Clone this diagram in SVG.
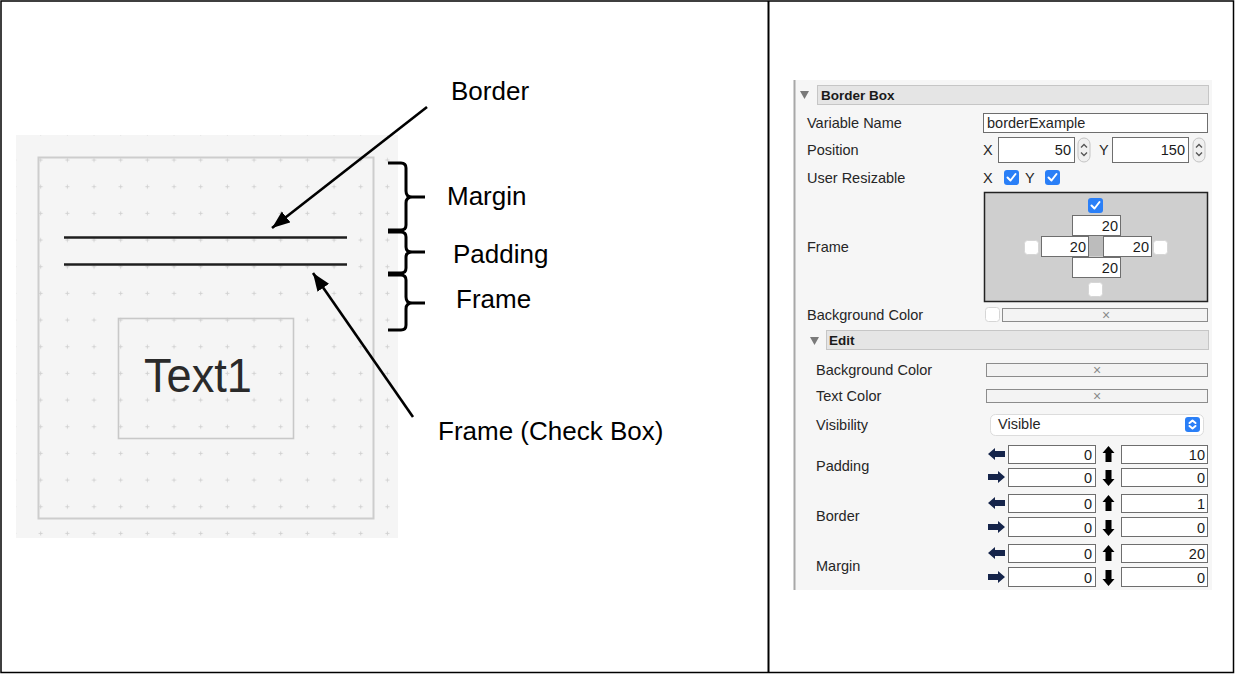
<svg xmlns="http://www.w3.org/2000/svg" width="1235" height="674" viewBox="0 0 1235 674">
  <style>
    .lbl { font-family: "Liberation Sans", Arial, sans-serif; font-size: 26px; fill: #000; }
    .ui { font-family: "Liberation Sans", Arial, sans-serif; font-size: 14.5px; fill: #262626; }
    .uib { font-family: "Liberation Sans", Arial, sans-serif; font-size: 13.5px; font-weight: bold; fill: #1a1a1a; }
    .num { font-family: "Liberation Sans", Arial, sans-serif; font-size: 14.5px; fill: #1a1a1a; text-anchor: end; }
    .x { font-family: "Liberation Sans", Arial, sans-serif; font-size: 14px; fill: #8a8a8a; text-anchor: middle; }
    .field { fill: #ffffff; stroke: #6e6e6e; stroke-width: 1; }
    .bar { fill: #f3f3f3; stroke: #8c8c8c; stroke-width: 1; }
    .hdr { fill: #e5e5e5; stroke: #c6c6c6; stroke-width: 1; }
    .tri { fill: #7a7a7a; }
    .cbon { fill: #2a7ff7; }
    .tick { fill: none; stroke: #ffffff; stroke-width: 2; stroke-linecap: round; stroke-linejoin: round; }
    .cboff { fill: #ffffff; stroke: #d6d6d6; stroke-width: 1; }
    .brace { fill: none; stroke: #000; stroke-width: 3; stroke-linejoin: round; }
    .conn { fill: none; stroke: #000; stroke-width: 2.6; }
    .lft { fill: #15244a; }
    .vert { fill: #000; }
    .chev { fill: none; stroke: #555; stroke-width: 1.3; }
  </style>
  <defs>
    <pattern id="grid" patternUnits="userSpaceOnUse" x="27.35" y="146.7" width="26.67" height="26.67">
      <path d="M11.33,13.33 h4 M13.33,11.33 v4" stroke="#d2d2d2" stroke-width="1"/>
    </pattern>
    <marker id="head" markerUnits="userSpaceOnUse" markerWidth="20" markerHeight="16" refX="18" refY="7" orient="auto">
      <path d="M0,0 L18,7 L0,14 z" fill="#000"/>
    </marker>
  </defs>

  <!-- table frame -->
  <rect x="1" y="1" width="1232.5" height="671.5" fill="#ffffff" stroke="#000" stroke-width="1.5"/>
  <line x1="768.5" y1="1" x2="768.5" y2="673" stroke="#000" stroke-width="2"/>

  <!-- design canvas -->
  <g id="canvas">
    <rect x="16" y="135" width="382" height="403" fill="#f5f5f5"/>
    <rect x="16" y="135" width="382" height="403" fill="url(#grid)"/>
    <rect x="38.5" y="157.5" width="335" height="361" fill="none" stroke="#cdcdcd" stroke-width="2"/>
    <line x1="64" y1="237.5" x2="347" y2="237.5" stroke="#1e1e1e" stroke-width="2.6"/>
    <line x1="64" y1="264.5" x2="347" y2="264.5" stroke="#1e1e1e" stroke-width="2.6"/>
    <rect x="118.5" y="318.5" width="175" height="120" fill="none" stroke="#c8c8c8" stroke-width="1.6"/>
    <text x="144" y="392" font-family="Liberation Sans, Arial, sans-serif" font-size="48" fill="#2a2a2a" textLength="108" lengthAdjust="spacingAndGlyphs">Text1</text>
  </g>

  <!-- braces -->
  <g id="brace-margin">
    <path class="brace" d="M388,163 H401 Q406,163 406,168 V191 Q406,197 412,197 H425 M412,197 Q406,197 406,203 V225 Q406,230 401,230 H388"/>
    <text class="lbl" x="447" y="205">Margin</text>
  </g>
  <g id="brace-padding">
    <path class="brace" d="M388,232 H401 Q406,232 406,237 V247 Q406,252 412,252 H425 M412,252 Q406,252 406,257 V268 Q406,273 401,273 H388"/>
    <text class="lbl" x="453" y="263">Padding</text>
  </g>
  <g id="brace-frame">
    <path class="brace" d="M388,275 H401 Q406,275 406,280 V297 Q406,303 412,303 H425 M412,303 Q406,303 406,309 V325 Q406,330 401,330 H388"/>
    <text class="lbl" x="456" y="308">Frame</text>
  </g>

  <g id="label-border">
    <text class="lbl" x="451" y="100">Border</text>
  </g>
  <g id="label-frame-checkbox">
    <text class="lbl" x="438" y="440">Frame (Check Box)</text>
  </g>

  <!-- pointers -->
  <g id="connectors">
    <line class="conn" x1="427" y1="107" x2="272" y2="228" marker-end="url(#head)"/>
    <line class="conn" x1="413" y1="417" x2="313" y2="273" marker-end="url(#head)"/>
  </g>

  <!-- property inspector -->
  <g id="inspector">
    <rect x="795" y="80" width="417" height="510" fill="#f6f6f6"/>
    <line x1="794.5" y1="80" x2="794.5" y2="590" stroke="#a8a8a8" stroke-width="2"/>

    <!-- Border Box section -->
    <polygon class="tri" points="800,91 809,91 804.5,99"/>
    <rect class="hdr" x="817.5" y="85.5" width="391" height="19"/>
    <text class="uib" x="821" y="100">Border Box</text>

    <text class="ui" x="807" y="128">Variable Name</text>
    <rect class="field" x="983.5" y="113.5" width="224" height="19"/>
    <text class="ui" x="987" y="128" fill="#1a1a1a">borderExample</text>

    <text class="ui" x="807" y="155">Position</text>
    <text class="ui" x="983" y="155">X</text>
    <rect class="field" x="998.5" y="137.5" width="76" height="25"/>
    <text class="num" x="1071" y="155">50</text>
    <rect x="1078" y="138" width="12" height="24" rx="6" fill="#f0f0f0" stroke="#c4c4c4"/>
    <path class="chev" d="M1081,147.5 l3,-3 l3,3 M1081,152.5 l3,3 l3,-3"/>
    <text class="ui" x="1099" y="155">Y</text>
    <rect class="field" x="1112.5" y="137.5" width="76" height="25"/>
    <text class="num" x="1185" y="155">150</text>
    <rect x="1193" y="138" width="12" height="24" rx="6" fill="#f0f0f0" stroke="#c4c4c4"/>
    <path class="chev" d="M1196,147.5 l3,-3 l3,3 M1196,152.5 l3,3 l3,-3"/>

    <text class="ui" x="807" y="183">User Resizable</text>
    <text class="ui" x="983" y="183">X</text>
    <rect class="cbon" x="1004" y="170" width="15" height="15" rx="3"/>
    <path class="tick" d="M1007.5,177.5 l3,3 l5,-6.5"/>
    <text class="ui" x="1025" y="183">Y</text>
    <rect class="cbon" x="1045" y="170" width="15" height="15" rx="3"/>
    <path class="tick" d="M1048.5,177.5 l3,3 l5,-6.5"/>

    <!-- frame editor -->
    <text class="ui" x="807" y="252">Frame</text>
    <rect x="984.5" y="192.5" width="223" height="109" fill="#cfcfcf" stroke="#222" stroke-width="1.5"/>
    <rect x="1088" y="236" width="15" height="20" fill="#bcbcbc"/>
    <rect class="cbon" x="1088" y="198" width="15" height="15" rx="3"/>
    <path class="tick" d="M1091.5,205.5 l3,3 l5,-6.5"/>
    <rect class="field" x="1072.5" y="215.5" width="48" height="20" stroke="#444"/>
    <text class="num" x="1118" y="231">20</text>
    <rect class="field" x="1041.5" y="236.5" width="47" height="20" stroke="#444"/>
    <text class="num" x="1086" y="252">20</text>
    <rect class="field" x="1103.5" y="236.5" width="48" height="20" stroke="#444"/>
    <text class="num" x="1149" y="252">20</text>
    <rect class="field" x="1072.5" y="257.5" width="48" height="20" stroke="#444"/>
    <text class="num" x="1118" y="273">20</text>
    <rect class="cboff" x="1024.5" y="240.5" width="14" height="14" rx="3"/>
    <rect class="cboff" x="1153.5" y="240.5" width="14" height="14" rx="3"/>
    <rect class="cboff" x="1088.5" y="282.5" width="14" height="14" rx="3"/>

    <text class="ui" x="807" y="320">Background Color</text>
    <rect class="cboff" x="985.5" y="307.5" width="14" height="14" rx="3"/>
    <rect class="bar" x="1002.5" y="308.5" width="205" height="13"/>
    <text class="x" x="1106" y="320">×</text>

    <!-- Edit section -->
    <polygon class="tri" points="810,337 819,337 814.5,345"/>
    <rect class="hdr" x="826.5" y="330.5" width="382" height="19"/>
    <text class="uib" x="829" y="345">Edit</text>

    <text class="ui" x="816" y="375">Background Color</text>
    <rect class="bar" x="986.5" y="363.5" width="221" height="13"/>
    <text class="x" x="1097" y="375">×</text>

    <text class="ui" x="816" y="401">Text Color</text>
    <rect class="bar" x="986.5" y="389.5" width="221" height="13"/>
    <text class="x" x="1097" y="401">×</text>

    <text class="ui" x="816" y="430">Visibility</text>
    <rect x="990.5" y="414.5" width="213" height="21" rx="5" fill="#ffffff" stroke="#dcdcdc"/>
    <text class="ui" x="998" y="429" fill="#1a1a1a">Visible</text>
    <rect class="cbon" x="1185" y="417" width="15" height="15" rx="3"/>
    <path class="tick" stroke-width="1.4" d="M1189.5,423 l3,-2.5 l3,2.5 M1189.5,426 l3,2.5 l3,-2.5"/>

    <!-- Padding / Border / Margin rows -->
    <text class="ui" x="816" y="471">Padding</text>
    <text class="ui" x="816" y="521">Border</text>
    <text class="ui" x="816" y="571">Margin</text>

    <g id="row-padding-1">
      <polygon class="lft" points="988,454 995,448 995,451 1005,451 1005,457 995,457 995,460"/>
      <rect class="field" x="1008.5" y="445.5" width="87" height="18"/>
      <text class="num" x="1092" y="460">0</text>
      <polygon class="vert" points="1108.5,446 1114.5,453 1111.5,453 1111.5,462 1105.5,462 1105.5,453 1102.5,453"/>
      <rect class="field" x="1121.5" y="445.5" width="86" height="18"/>
      <text class="num" x="1205" y="460">10</text>
    </g>
    <g id="row-padding-2">
      <polygon class="lft" points="1005,477 998,471 998,474 988,474 988,480 998,480 998,483"/>
      <rect class="field" x="1008.5" y="468.5" width="87" height="18"/>
      <text class="num" x="1092" y="483">0</text>
      <polygon class="vert" points="1108.5,486 1114.5,479 1111.5,479 1111.5,470 1105.5,470 1105.5,479 1102.5,479"/>
      <rect class="field" x="1121.5" y="468.5" width="86" height="18"/>
      <text class="num" x="1205" y="483">0</text>
    </g>
    <g id="row-border-1">
      <polygon class="lft" points="988,503 995,497 995,500 1005,500 1005,506 995,506 995,509"/>
      <rect class="field" x="1008.5" y="494.5" width="87" height="18"/>
      <text class="num" x="1092" y="509">0</text>
      <polygon class="vert" points="1108.5,495 1114.5,502 1111.5,502 1111.5,511 1105.5,511 1105.5,502 1102.5,502"/>
      <rect class="field" x="1121.5" y="494.5" width="86" height="18"/>
      <text class="num" x="1205" y="509">1</text>
    </g>
    <g id="row-border-2">
      <polygon class="lft" points="1005,527 998,521 998,524 988,524 988,530 998,530 998,533"/>
      <rect class="field" x="1008.5" y="517.5" width="87" height="19"/>
      <text class="num" x="1092" y="533">0</text>
      <polygon class="vert" points="1108.5,536 1114.5,529 1111.5,529 1111.5,520 1105.5,520 1105.5,529 1102.5,529"/>
      <rect class="field" x="1121.5" y="517.5" width="86" height="19"/>
      <text class="num" x="1205" y="533">0</text>
    </g>
    <g id="row-margin-1">
      <polygon class="lft" points="988,553 995,547 995,550 1005,550 1005,556 995,556 995,559"/>
      <rect class="field" x="1008.5" y="544.5" width="87" height="18"/>
      <text class="num" x="1092" y="559">0</text>
      <polygon class="vert" points="1108.5,545 1114.5,552 1111.5,552 1111.5,561 1105.5,561 1105.5,552 1102.5,552"/>
      <rect class="field" x="1121.5" y="544.5" width="86" height="18"/>
      <text class="num" x="1205" y="559">20</text>
    </g>
    <g id="row-margin-2">
      <polygon class="lft" points="1005,577 998,571 998,574 988,574 988,580 998,580 998,583"/>
      <rect class="field" x="1008.5" y="567.5" width="87" height="19"/>
      <text class="num" x="1092" y="583">0</text>
      <polygon class="vert" points="1108.5,586 1114.5,579 1111.5,579 1111.5,570 1105.5,570 1105.5,579 1102.5,579"/>
      <rect class="field" x="1121.5" y="567.5" width="86" height="19"/>
      <text class="num" x="1205" y="583">0</text>
    </g>
  </g>
</svg>
